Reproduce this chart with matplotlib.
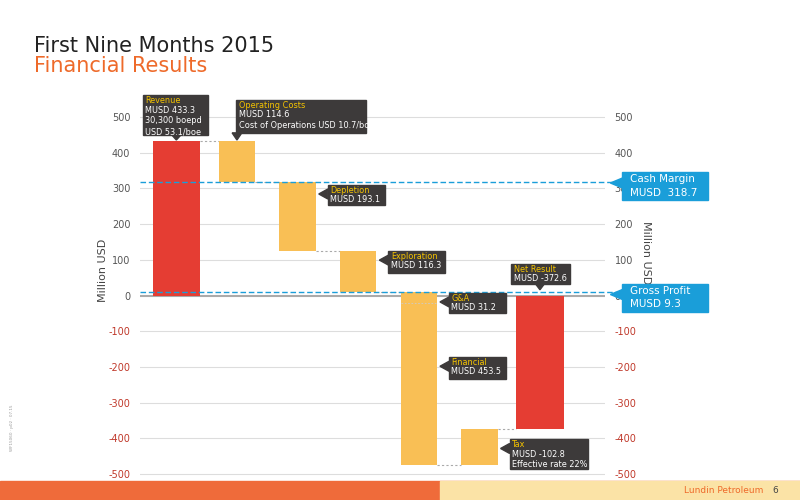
import matplotlib
matplotlib.use("Agg")
import matplotlib.pyplot as plt
from matplotlib.patches import Rectangle, Polygon

categories = ["Revenue", "Operating Costs", "Depletion", "Exploration", "G&A", "Financial", "Tax", "Net Result"]
values = [433.3, -114.6, -193.1, -116.3, -31.2, -453.5, 102.8, -372.6]
positions = [0, 1, 2, 3, 4, 4, 5, 6]
cash_margin = 318.7
gross_profit = 9.3
yticks = [500, 400, 300, 200, 100, 0, -100, -200, -300, -400, -500]

RED = "#e53d33"
YEL = "#f9bf55"
BOX = "#3d3a3a"
GOLD = "#f5c400"
BLUE = "#1a9ed9"

fig = plt.figure(figsize=(8, 5), dpi=100)
ax = fig.add_axes([0.175, 0.048, 0.581, 0.722])
ax.set_xlim(-0.6, 7.07)
ax.set_ylim(-505, 505)
for s in ax.spines.values():
    s.set_visible(False)
ax.set_xticks([])
ax.set_yticks(yticks)
ax.set_yticklabels([str(y) for y in yticks])
for y in yticks:
    ax.axhline(y, color="#aaaaaa" if y == 0 else "#dddddd", lw=1.5 if y == 0 else 0.8, zorder=0)
ax.tick_params(axis="y", length=0, labelsize=7, labelright=True, pad=7)
for tk, y in zip(ax.yaxis.get_major_ticks(), yticks):
    c = "#c0392b" if y < 0 else "#555555"
    tk.label1.set_color(c)
    tk.label2.set_color(c)
ax.text(-0.08, 0.57, "Million USD", transform=ax.transAxes, rotation=90, fontsize=8,
        color="#444444", ha="center", va="center")
ax.text(1.088, 0.62, "Million USD", transform=ax.transAxes, rotation=270, fontsize=8,
        color="#444444", ha="center", va="center")

# waterfall
run = 0.0
for c, v, p in zip(categories, values, positions):
    if c in ("Revenue", "Net Result"):
        ax.bar(p, v, width=0.78, bottom=0, color=RED, zorder=2)
        if c == "Revenue":
            run = v
    else:
        ax.bar(p, v, width=0.6, bottom=run, color=YEL, zorder=2)
        run += v

# connectors
levels = [433.3, 318.7, 125.6, 9.3, -475.4]
for i, lv in enumerate(levels):
    x0 = i + (0.39 if i == 0 else 0.3)
    x1 = i + 1 - 0.3
    ax.plot([x0, x1], [lv, lv], color="#aaaaaa", ls=(0, (2, 2)), lw=0.8, zorder=1)
ax.plot([5.3, 5.61], [-372.6, -372.6], color="#aaaaaa", ls=(0, (2, 2)), lw=0.8, zorder=1)
ax.plot([4 - 0.3, 4 + 0.3], [-21.9, -21.9], color="#cccccc", ls=(0, (2, 2)), lw=0.6, zorder=3)

for lv in (cash_margin, gross_profit):
    ax.plot([-0.6, 7.25], [lv, lv], color=BLUE, ls=(0, (4, 2)), lw=1, zorder=3, clip_on=False)

FS = 5.9
def box(x, top, bot, w, title, lines, ptr):
    ax.add_patch(Rectangle((x, bot), w, top - bot, color=BOX, zorder=5, clip_on=False))
    ax.text(x + 0.04, top - 3, title, color=GOLD, fontsize=FS, va="top", zorder=6)
    ax.text(x + 0.04, top - 29, "\n".join(lines), color="white", fontsize=FS, va="top",
            zorder=6, linespacing=1.25)
    ax.add_patch(Polygon(ptr, closed=True, color=BOX, zorder=5, clip_on=False))

def lptr(x, top):
    return [(x, top - 12), (x, top - 40), (x - 0.15, top - 26)]

box(-0.55, 560, 449, 1.08, "Revenue", ["MUSD 433.3", "30,300 boepd", "USD 53.1/boe"],
    [(-0.08, 450), (0.08, 450), (0, 435)])
box(0.99, 548, 454, 2.14, "Operating Costs", ["MUSD 114.6", "Cost of Operations USD 10.7/boe"],
    [(0.92, 455), (1.08, 455), (1.0, 435)])
box(2.5, 310, 252, 0.94, "Depletion", ["MUSD 193.1"], lptr(2.5, 310))
box(3.5, 125, 64, 0.94, "Exploration", ["MUSD 116.3"], lptr(3.5, 125))
box(4.5, 8, -50, 0.94, "G&A", ["MUSD 31.2"], lptr(4.5, 8))
box(4.5, -172, -233, 0.94, "Financial", ["MUSD 453.5"], lptr(4.5, -172))
box(5.5, -402, -485, 1.3, "Tax", ["MUSD -102.8", "Effective rate 22%"], lptr(5.5, -402))
box(5.53, 89, 33, 0.97, "Net Result", ["MUSD -372.6"], [(5.92, 34), (6.08, 34), (6.0, 16)])

def bluebox(y, t1, t2):
    fig.patches.append(Rectangle((0.778, y - 0.028), 0.107, 0.056, color=BLUE,
                                 transform=fig.transFigure, figure=fig))
    fig.patches.append(Polygon([(0.778, y + 0.016), (0.778, y - 0.004), (0.763, y + 0.006)],
                               closed=True, color=BLUE, transform=fig.transFigure, figure=fig))
    fig.text(0.788, y + 0.024, t1, color="white", fontsize=7.5, va="top")
    fig.text(0.788, y - 0.003, t2, color="white", fontsize=7.5, va="top")

bluebox(0.628, "Cash Margin", "MUSD  318.7")
bluebox(0.405, "Gross Profit", "MUSD 9.3")

fig.text(0.043, 0.895, "First Nine Months 2015", fontsize=15, color="#222222")
fig.text(0.043, 0.855, "Financial Results", fontsize=15, color="#ee6a2a")

fig.patches.append(Rectangle((0, 0), 1, 0.038, color="#ef6b3a", transform=fig.transFigure, figure=fig))
fig.patches.append(Rectangle((0.55, 0), 0.45, 0.038, color="#fbe3a6", transform=fig.transFigure, figure=fig))
fig.text(0.855, 0.019, "Lundin Petroleum", fontsize=6.5, color="#ee6a2a", va="center")
fig.text(0.965, 0.019, "6", fontsize=6.5, color="#444444", va="center")
fig.text(0.012, 0.1, "WF15060 · p02 · 07.15", fontsize=3, color="#999999", rotation=90)

fig.savefig("out.png", dpi=100)
